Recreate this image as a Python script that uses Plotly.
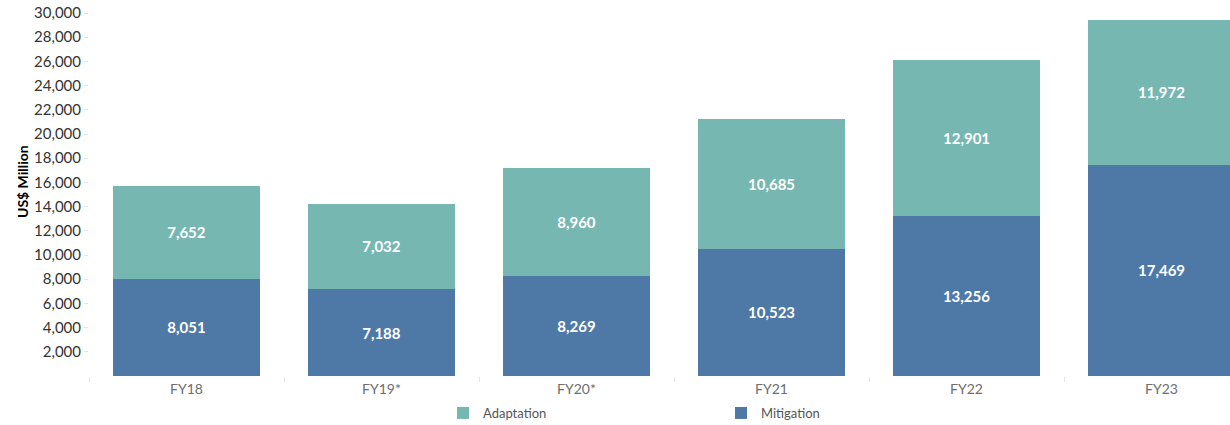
import plotly.graph_objects as go

categories = ["FY18", "FY19*", "FY20*", "FY21", "FY22", "FY23"]
mitigation = [8051, 7188, 8269, 10523, 13256, 17469]
adaptation = [7652, 7032, 8960, 10685, 12901, 11972]
y_ticks = list(range(2000, 30001, 2000))

FONT = "Lato"
W, H = 1230, 425
L, R, T, B = 89, 0, 13, 49
PW, PH = W - L - R, H - T - B

fig = go.Figure()
fig.add_trace(go.Bar(
    x=categories, y=mitigation, name="Mitigation",
    marker=dict(color="#4E79A7", line=dict(width=0)),
    texttemplate="<b>%{y:,}</b>", textposition="inside", insidetextanchor="middle",
    textfont=dict(color="white", size=15, family=FONT), textangle=0,
))
fig.add_trace(go.Bar(
    x=categories, y=adaptation, name="Adaptation",
    marker=dict(color="#76B7B2", line=dict(width=0)),
    texttemplate="<b>%{y:,}</b>", textposition="inside", insidetextanchor="middle",
    textfont=dict(color="white", size=15, family=FONT), textangle=0,
))

fig.update_layout(
    width=W, height=H,
    margin=dict(l=L, r=R, t=T, b=B, autoexpand=False),
    barmode="stack", bargap=0.246,
    plot_bgcolor="white", paper_bgcolor="white",
    font=dict(family=FONT),
    xaxis=dict(
        range=[-0.5, 5.351], showgrid=False, showline=False, zeroline=False,
        ticks="outside", tickson="boundaries", ticklen=5, tickcolor="#e6e6e6",
        ticklabelstandoff=3, automargin=False,
        tickfont=dict(size=14, color="#6e6e6e", family=FONT),
    ),
    yaxis=dict(
        range=[0, 30000], tickvals=y_ticks, tickformat=",d",
        showgrid=False, showline=False, zeroline=False,
        ticks="outside", ticklen=4, tickcolor="#e6e6e6", automargin=False,
        tickfont=dict(size=15, color="#333333", family=FONT),
    ),
    legend=dict(
        orientation="h", traceorder="reversed",
        x=(443 - L) / PW, xanchor="left",
        y=-(413 - 376) / PH, yanchor="middle",
        entrywidth=233, font=dict(size=13, color="#555555", family=FONT),
        itemwidth=30,
    ),
    showlegend=True,
)

fig.add_annotation(
    text="<b>US$ Million</b>",
    x=(22 - L) / PW, xref="paper",
    y=(376 - 182) / PH, yref="paper",
    textangle=-90, showarrow=False, font=dict(size=14, color="black", family=FONT),
    xanchor="center", yanchor="middle",
)

fig.write_html(
    "out.html",
    config={"displayModeBar": False},
    post_script="document.body.style.margin='0px';",
)
